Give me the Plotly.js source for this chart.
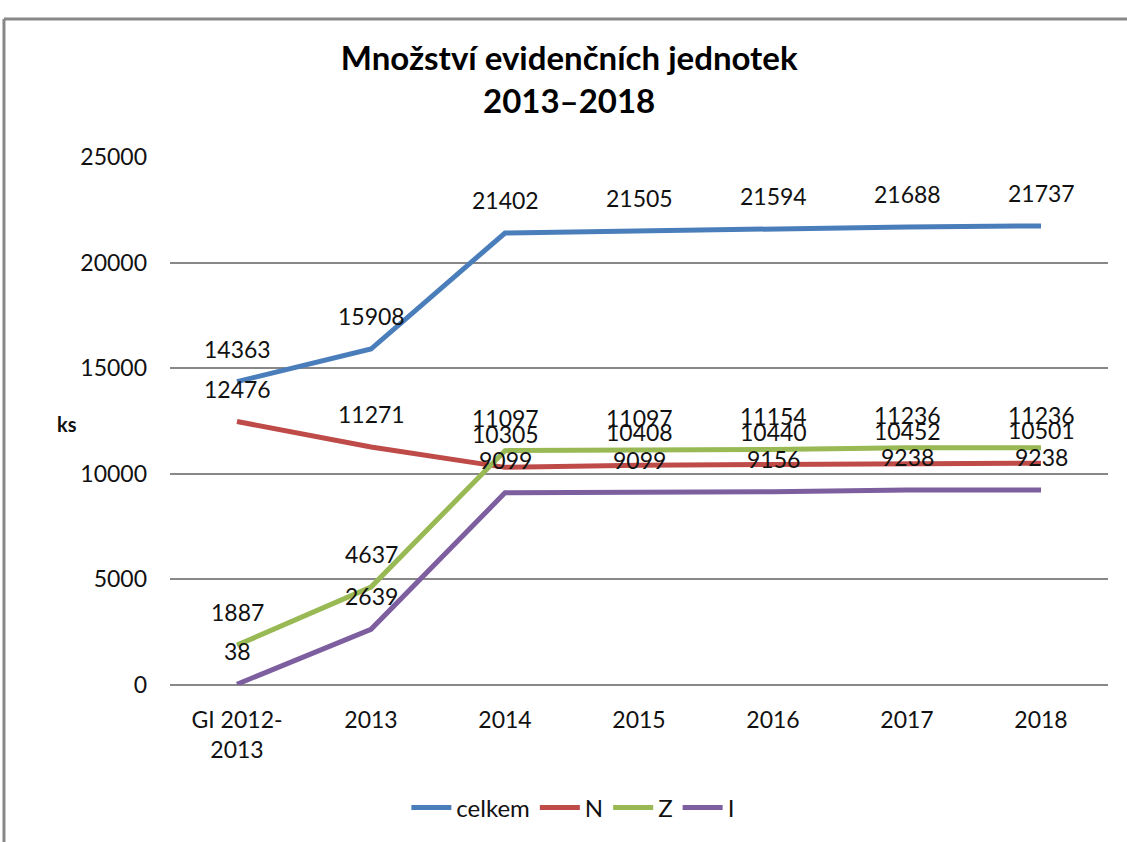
<!DOCTYPE html>
<html>
<head>
<meta charset="utf-8">
<script src="https://cdn.plot.ly/plotly-3.0.1.min.js"></script>
<style>html,body{margin:0;padding:0;background:#fff;}#chart{width:1127px;height:842px;}</style>
</head>
<body>
<div id="chart"></div>
<script>
const categories = ["GI 2012-<br>2013", "2013", "2014", "2015", "2016", "2017", "2018"];
const celkem = [14363, 15908, 21402, 21505, 21594, 21688, 21737];
const N = [12476, 11271, 10305, 10408, 10440, 10452, 10501];
const Z = [1887, 4637, 11097, 11097, 11154, 11236, 11236];
const I = [38, 2639, 9099, 9099, 9156, 9238, 9238];
const yTicks = [0, 5000, 10000, 15000, 20000, 25000];

const FONT = "Lato, 'Open Sans', sans-serif";
const seriesDefs = [
  {name: "celkem", y: celkem, color: "#4A7EBB"},
  {name: "N", y: N, color: "#BE4B48"},
  {name: "Z", y: Z, color: "#98B954"},
  {name: "I", y: I, color: "#7D5FA0"}
];

const traces = seriesDefs.map(s => ({
  type: "scatter", mode: "lines", name: s.name,
  x: categories, y: s.y,
  line: {color: s.color, width: 5},
  hoverinfo: "skip"
}));

const annotations = [];
seriesDefs.forEach(s => {
  s.y.forEach((v, i) => {
    annotations.push({
      x: i, y: v, xref: "x", yref: "y",
      text: String(v), showarrow: false, yshift: 33,
      font: {family: FONT, size: 23, color: "#111"}
    });
  });
});
annotations.push({
  x: -0.1226, y: 0.495, xref: "paper", yref: "paper",
  text: "<b>ks</b>", showarrow: false,
  font: {family: FONT, size: 20, color: "#111"}
});

const layout = {
  width: 1127, height: 842,
  margin: {l: 170, r: 19, t: 157, b: 150},
  paper_bgcolor: "#fff", plot_bgcolor: "#fff",
  font: {family: FONT, size: 22, color: "#111"},
  title: {
    text: "<b>Množství evidenčních jednotek<br>2013–2018</b>",
    x: 0.505, xanchor: "center", y: 0.917, yanchor: "top",
    font: {family: FONT, size: 33, color: "#000"}
  },
  xaxis: {
    type: "category", range: [-0.5, 6.5],
    showgrid: false, zeroline: false, showline: false,
    ticks: "", ticklabelstandoff: 19,
    tickfont: {family: FONT, size: 23, color: "#111"},
    automargin: false
  },
  yaxis: {
    range: [0, 25000], tickvals: yTicks, ticktext: yTicks.map(String),
    showgrid: true, gridcolor: "#888", gridwidth: 2,
    zeroline: true, zerolinecolor: "#888", zerolinewidth: 2,
    showline: false, ticks: "",
    ticklabelstandoff: 22,
    tickfont: {family: FONT, size: 23, color: "#111"},
    automargin: false
  },
  showlegend: true,
  legend: {
    orientation: "h", x: 0.43, xanchor: "center", y: -0.19, yanchor: "top",
    font: {family: FONT, size: 24, color: "#111"},
    traceorder: "normal", itemwidth: 40
  },
  annotations: annotations,
  shapes: [
    {type: "line", xref: "paper", yref: "paper", x0: -0.177, x1: 1.05, y0: 1.2615, y1: 1.2615,
     line: {color: "#888", width: 3}},
    {type: "line", xref: "paper", yref: "paper", x0: -0.177, x1: -0.177, y0: 1.2615, y1: -0.32,
     line: {color: "#888", width: 3}}
  ]
};

Plotly.newPlot("chart", traces, layout, {displayModeBar: false, staticPlot: true});
</script>
</body>
</html>
